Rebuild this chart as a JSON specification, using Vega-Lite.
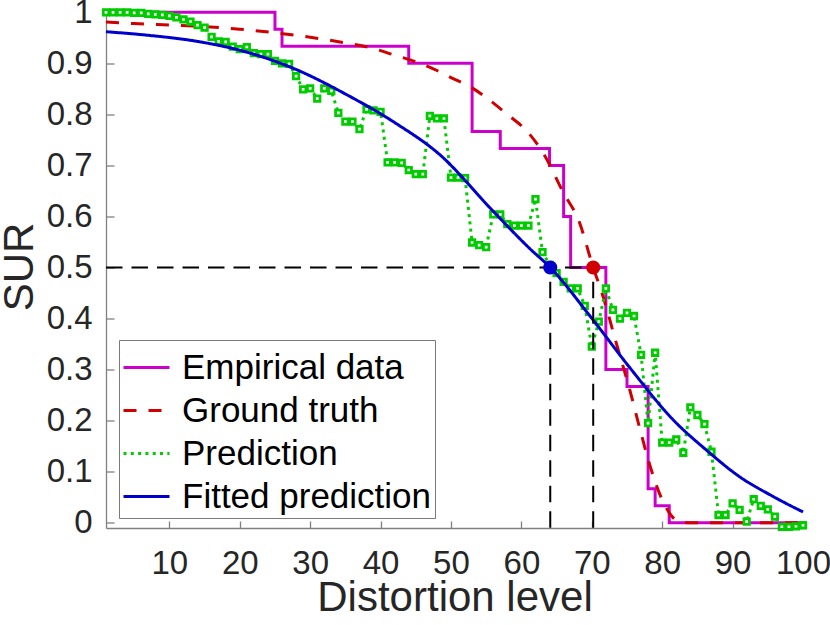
{
  "$schema": "https://vega.github.io/schema/vega-lite/v6.json",
  "width": 697,
  "height": 519.5,
  "autosize": "none",
  "padding": {"left": 106, "top": 8.5, "right": 27, "bottom": 97},
  "background": "white",
  "datasets": {
    "empirical": [
      {"x": 1, "y": 1, "series": "Empirical data"},
      {"x": 25, "y": 0.9667, "series": "Empirical data"},
      {"x": 26, "y": 0.9333, "series": "Empirical data"},
      {"x": 44, "y": 0.9, "series": "Empirical data"},
      {"x": 53, "y": 0.7667, "series": "Empirical data"},
      {"x": 57, "y": 0.7333, "series": "Empirical data"},
      {"x": 64, "y": 0.7, "series": "Empirical data"},
      {"x": 66, "y": 0.6, "series": "Empirical data"},
      {"x": 67, "y": 0.5, "series": "Empirical data"},
      {"x": 72, "y": 0.3, "series": "Empirical data"},
      {"x": 75, "y": 0.2667, "series": "Empirical data"},
      {"x": 78, "y": 0.0667, "series": "Empirical data"},
      {"x": 79, "y": 0.0333, "series": "Empirical data"},
      {"x": 81, "y": 0, "series": "Empirical data"},
      {"x": 100, "y": 0, "series": "Empirical data"}
    ],
    "truth": [
      {"x": 1, "y": 0.981, "series": "Ground truth"},
      {"x": 5, "y": 0.978, "series": "Ground truth"},
      {"x": 10, "y": 0.975, "series": "Ground truth"},
      {"x": 15, "y": 0.972, "series": "Ground truth"},
      {"x": 20, "y": 0.967, "series": "Ground truth"},
      {"x": 25, "y": 0.96, "series": "Ground truth"},
      {"x": 28, "y": 0.955, "series": "Ground truth"},
      {"x": 32, "y": 0.947, "series": "Ground truth"},
      {"x": 35, "y": 0.94, "series": "Ground truth"},
      {"x": 38.5, "y": 0.931, "series": "Ground truth"},
      {"x": 42, "y": 0.916, "series": "Ground truth"},
      {"x": 45, "y": 0.903, "series": "Ground truth"},
      {"x": 48, "y": 0.886, "series": "Ground truth"},
      {"x": 50, "y": 0.872, "series": "Ground truth"},
      {"x": 53, "y": 0.852, "series": "Ground truth"},
      {"x": 55, "y": 0.833, "series": "Ground truth"},
      {"x": 58, "y": 0.8, "series": "Ground truth"},
      {"x": 60.8, "y": 0.767, "series": "Ground truth"},
      {"x": 63.1, "y": 0.724, "series": "Ground truth"},
      {"x": 66, "y": 0.646, "series": "Ground truth"},
      {"x": 68.2, "y": 0.59, "series": "Ground truth"},
      {"x": 70.2, "y": 0.5, "series": "Ground truth"},
      {"x": 71.4, "y": 0.452, "series": "Ground truth"},
      {"x": 73.5, "y": 0.351, "series": "Ground truth"},
      {"x": 75.4, "y": 0.26, "series": "Ground truth"},
      {"x": 77, "y": 0.175, "series": "Ground truth"},
      {"x": 78.3, "y": 0.11, "series": "Ground truth"},
      {"x": 80, "y": 0.045, "series": "Ground truth"},
      {"x": 81.4, "y": 0.012, "series": "Ground truth"},
      {"x": 82.5, "y": 0.002, "series": "Ground truth"},
      {"x": 84, "y": 0, "series": "Ground truth"},
      {"x": 100, "y": 0, "series": "Ground truth"}
    ],
    "prediction": [
      {"x": 1, "y": 1.0, "series": "Prediction"},
      {"x": 2, "y": 1.0, "series": "Prediction"},
      {"x": 3, "y": 1.0, "series": "Prediction"},
      {"x": 4, "y": 1.0, "series": "Prediction"},
      {"x": 5, "y": 0.999, "series": "Prediction"},
      {"x": 6, "y": 0.999, "series": "Prediction"},
      {"x": 7, "y": 0.997, "series": "Prediction"},
      {"x": 8, "y": 0.996, "series": "Prediction"},
      {"x": 9, "y": 0.995, "series": "Prediction"},
      {"x": 10, "y": 0.993, "series": "Prediction"},
      {"x": 11, "y": 0.99, "series": "Prediction"},
      {"x": 12, "y": 0.986, "series": "Prediction"},
      {"x": 13, "y": 0.982, "series": "Prediction"},
      {"x": 14, "y": 0.975, "series": "Prediction"},
      {"x": 15, "y": 0.97, "series": "Prediction"},
      {"x": 16, "y": 0.952, "series": "Prediction"},
      {"x": 17, "y": 0.943, "series": "Prediction"},
      {"x": 18, "y": 0.942, "series": "Prediction"},
      {"x": 19, "y": 0.933, "series": "Prediction"},
      {"x": 20, "y": 0.928, "series": "Prediction"},
      {"x": 21, "y": 0.932, "series": "Prediction"},
      {"x": 22, "y": 0.92, "series": "Prediction"},
      {"x": 23, "y": 0.918, "series": "Prediction"},
      {"x": 24, "y": 0.918, "series": "Prediction"},
      {"x": 25, "y": 0.905, "series": "Prediction"},
      {"x": 26, "y": 0.9, "series": "Prediction"},
      {"x": 27, "y": 0.899, "series": "Prediction"},
      {"x": 28, "y": 0.875, "series": "Prediction"},
      {"x": 29, "y": 0.849, "series": "Prediction"},
      {"x": 30, "y": 0.851, "series": "Prediction"},
      {"x": 31, "y": 0.831, "series": "Prediction"},
      {"x": 32, "y": 0.851, "series": "Prediction"},
      {"x": 33, "y": 0.846, "series": "Prediction"},
      {"x": 34, "y": 0.803, "series": "Prediction"},
      {"x": 35, "y": 0.786, "series": "Prediction"},
      {"x": 36, "y": 0.786, "series": "Prediction"},
      {"x": 37, "y": 0.771, "series": "Prediction"},
      {"x": 38, "y": 0.81, "series": "Prediction"},
      {"x": 39, "y": 0.808, "series": "Prediction"},
      {"x": 40, "y": 0.805, "series": "Prediction"},
      {"x": 41, "y": 0.706, "series": "Prediction"},
      {"x": 42, "y": 0.706, "series": "Prediction"},
      {"x": 43, "y": 0.705, "series": "Prediction"},
      {"x": 44, "y": 0.691, "series": "Prediction"},
      {"x": 45, "y": 0.683, "series": "Prediction"},
      {"x": 46, "y": 0.683, "series": "Prediction"},
      {"x": 47, "y": 0.797, "series": "Prediction"},
      {"x": 48, "y": 0.792, "series": "Prediction"},
      {"x": 49, "y": 0.792, "series": "Prediction"},
      {"x": 50, "y": 0.676, "series": "Prediction"},
      {"x": 51, "y": 0.676, "series": "Prediction"},
      {"x": 52, "y": 0.675, "series": "Prediction"},
      {"x": 53, "y": 0.549, "series": "Prediction"},
      {"x": 54, "y": 0.544, "series": "Prediction"},
      {"x": 55, "y": 0.54, "series": "Prediction"},
      {"x": 56, "y": 0.604, "series": "Prediction"},
      {"x": 57, "y": 0.604, "series": "Prediction"},
      {"x": 58, "y": 0.585, "series": "Prediction"},
      {"x": 59, "y": 0.582, "series": "Prediction"},
      {"x": 60, "y": 0.582, "series": "Prediction"},
      {"x": 61, "y": 0.582, "series": "Prediction"},
      {"x": 62, "y": 0.634, "series": "Prediction"},
      {"x": 63, "y": 0.53, "series": "Prediction"},
      {"x": 64, "y": 0.505, "series": "Prediction"},
      {"x": 65, "y": 0.489, "series": "Prediction"},
      {"x": 66, "y": 0.472, "series": "Prediction"},
      {"x": 67, "y": 0.459, "series": "Prediction"},
      {"x": 68, "y": 0.459, "series": "Prediction"},
      {"x": 69, "y": 0.425, "series": "Prediction"},
      {"x": 70, "y": 0.345, "series": "Prediction"},
      {"x": 71, "y": 0.394, "series": "Prediction"},
      {"x": 72, "y": 0.459, "series": "Prediction"},
      {"x": 73, "y": 0.417, "series": "Prediction"},
      {"x": 74, "y": 0.4, "series": "Prediction"},
      {"x": 75, "y": 0.411, "series": "Prediction"},
      {"x": 76, "y": 0.405, "series": "Prediction"},
      {"x": 77, "y": 0.329, "series": "Prediction"},
      {"x": 78, "y": 0.195, "series": "Prediction"},
      {"x": 79, "y": 0.333, "series": "Prediction"},
      {"x": 80, "y": 0.157, "series": "Prediction"},
      {"x": 81, "y": 0.157, "series": "Prediction"},
      {"x": 82, "y": 0.163, "series": "Prediction"},
      {"x": 83, "y": 0.137, "series": "Prediction"},
      {"x": 84, "y": 0.226, "series": "Prediction"},
      {"x": 85, "y": 0.211, "series": "Prediction"},
      {"x": 86, "y": 0.193, "series": "Prediction"},
      {"x": 87, "y": 0.139, "series": "Prediction"},
      {"x": 88, "y": 0.015, "series": "Prediction"},
      {"x": 89, "y": 0.015, "series": "Prediction"},
      {"x": 90, "y": 0.038, "series": "Prediction"},
      {"x": 91, "y": 0.025, "series": "Prediction"},
      {"x": 92, "y": 0.002, "series": "Prediction"},
      {"x": 93, "y": 0.046, "series": "Prediction"},
      {"x": 94, "y": 0.033, "series": "Prediction"},
      {"x": 95, "y": 0.026, "series": "Prediction"},
      {"x": 96, "y": 0.012, "series": "Prediction"},
      {"x": 97, "y": -0.008, "series": "Prediction"},
      {"x": 98, "y": -0.008, "series": "Prediction"},
      {"x": 99, "y": -0.007, "series": "Prediction"},
      {"x": 100, "y": -0.005, "series": "Prediction"}
    ],
    "fitted": [
      {"x": 1, "y": 0.962, "series": "Fitted prediction"},
      {"x": 7, "y": 0.955, "series": "Fitted prediction"},
      {"x": 14, "y": 0.943, "series": "Fitted prediction"},
      {"x": 21, "y": 0.922, "series": "Fitted prediction"},
      {"x": 28, "y": 0.888, "series": "Fitted prediction"},
      {"x": 35, "y": 0.84, "series": "Fitted prediction"},
      {"x": 42, "y": 0.784, "series": "Fitted prediction"},
      {"x": 48.5, "y": 0.72, "series": "Fitted prediction"},
      {"x": 55.6, "y": 0.616, "series": "Fitted prediction"},
      {"x": 61.2, "y": 0.537, "series": "Fitted prediction"},
      {"x": 64.1, "y": 0.5, "series": "Fitted prediction"},
      {"x": 69.8, "y": 0.404, "series": "Fitted prediction"},
      {"x": 75.5, "y": 0.302, "series": "Fitted prediction"},
      {"x": 81.6, "y": 0.201, "series": "Fitted prediction"},
      {"x": 86.3, "y": 0.142, "series": "Fitted prediction"},
      {"x": 91, "y": 0.09, "series": "Fitted prediction"},
      {"x": 95.8, "y": 0.051, "series": "Fitted prediction"},
      {"x": 100, "y": 0.021, "series": "Fitted prediction"}
    ],
    "guides": [
      {"x": 1, "x2": 70.2, "y": 0.5, "y2": 0.5},
      {"x": 64.1, "x2": 64.1, "y": -0.01, "y2": 0.5},
      {"x": 70.2, "x2": 70.2, "y": -0.01, "y2": 0.5}
    ],
    "blueDot": [{"x": 64.1, "y": 0.5}],
    "redDot": [{"x": 70.2, "y": 0.5}]
  },
  "encoding": {
    "x": {
      "field": "x",
      "type": "quantitative",
      "scale": {"domain": [1, 100], "nice": false, "zero": false},
      "axis": {
        "title": "Distortion level",
        "values": [10, 20, 30, 40, 50, 60, 70, 80, 90, 100],
        "tickSize": -7,
        "labelPadding": 52.5,
        "labelBaseline": "alphabetic",
        "titleY": 82,
        "titleBaseline": "alphabetic"
      }
    },
    "y": {
      "field": "y",
      "type": "quantitative",
      "scale": {"domain": [-0.0104, 1.0075], "nice": false, "zero": false},
      "axis": {
        "title": "SUR",
        "values": [0, 0.1, 0.2, 0.3, 0.4, 0.5, 0.6, 0.7, 0.8, 0.9, 1],
        "format": ".1~f",
        "tickSize": -8,
        "labelPadding": 22,
        "labelAlign": "right",
        "labelBaseline": "middle",
        "titleX": -74,
        "titleY": 258,
        "titleBaseline": "alphabetic"
      }
    },
    "color": {
      "field": "series",
      "type": "nominal",
      "scale": {
        "domain": ["Empirical data", "Ground truth", "Prediction", "Fitted prediction"],
        "range": ["#cc00cc", "#d00000", "#00cc00", "#0000cc"]
      },
      "legend": {"title": null}
    },
    "strokeDash": {
      "field": "series",
      "type": "nominal",
      "scale": {
        "domain": ["Empirical data", "Ground truth", "Prediction", "Fitted prediction"],
        "range": [[1, 0], [13, 12], [3, 4.3], [1, 0]]
      },
      "legend": {"title": null}
    }
  },
  "layer": [
    {
      "data": {"name": "empirical"},
      "mark": {"type": "line", "interpolate": "step-after", "strokeWidth": 3}
    },
    {
      "data": {"name": "truth"},
      "mark": {"type": "line", "interpolate": "monotone", "strokeWidth": 3}
    },
    {
      "data": {"name": "prediction"},
      "mark": {"type": "line", "strokeWidth": 3}
    },
    {
      "data": {"name": "prediction"},
      "mark": {"type": "point", "shape": "square", "size": 30, "fill": "white", "stroke": "#00cc00", "strokeWidth": 2.8, "opacity": 1},
      "encoding": {"color": {"value": "#00cc00"}, "strokeDash": {"value": [1, 0]}}
    },
    {
      "data": {"name": "fitted"},
      "mark": {"type": "line", "interpolate": "monotone", "strokeWidth": 3}
    },
    {
      "data": {"name": "guides"},
      "mark": {"type": "rule", "color": "black", "strokeWidth": 2},
      "encoding": {
        "x2": {"field": "x2"},
        "y2": {"field": "y2"},
        "color": {"value": "black"},
        "strokeDash": {"value": [16.5, 9]}
      }
    },
    {
      "data": {"name": "blueDot"},
      "mark": {"type": "circle", "size": 200, "opacity": 1},
      "encoding": {"color": {"value": "#0000cc"}, "strokeDash": {"value": [1, 0]}}
    },
    {
      "data": {"name": "redDot"},
      "mark": {"type": "circle", "size": 200, "opacity": 1},
      "encoding": {"color": {"value": "#d00000"}, "strokeDash": {"value": [1, 0]}}
    }
  ],
  "config": {
    "font": "Liberation Sans",
    "view": {"stroke": null},
    "axis": {
      "grid": false,
      "domainColor": "#808080",
      "domainWidth": 1.3,
      "tickColor": "#808080",
      "tickWidth": 1.3,
      "labelFontSize": 33,
      "labelColor": "#262626",
      "labelOverlap": false,
      "labelFlush": false,
      "titleFontSize": 42,
      "titleFontWeight": "normal",
      "titleColor": "#262626"
    },
    "legend": {
      "orient": "none",
      "legendX": 13,
      "legendY": 331.5,
      "symbolType": "stroke",
      "symbolSize": 2116,
      "symbolStrokeWidth": 3,
      "labelFontSize": 35,
      "labelColor": "black",
      "labelOffset": 11,
      "labelLimit": 400,
      "rowPadding": 0,
      "padding": 3,
      "strokeColor": "#7a7a7a",
      "fillColor": "white"
    }
  }
}
